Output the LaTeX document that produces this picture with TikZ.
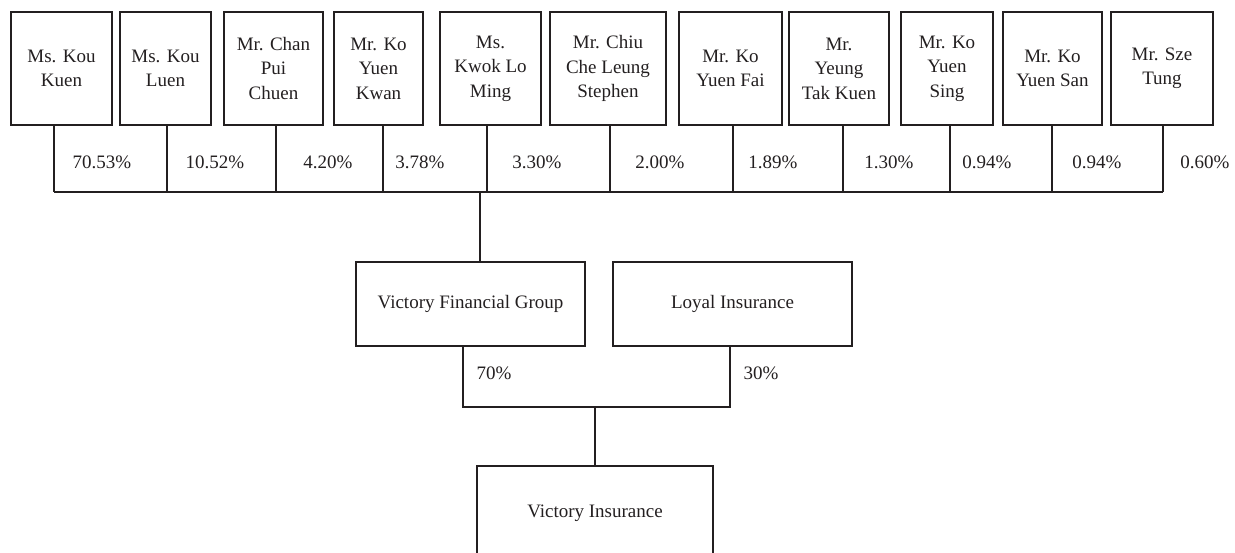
\documentclass[tikz,border=0pt]{standalone}
\usepackage{fontspec}
\setmainfont{Liberation Serif}
\definecolor{ink}{HTML}{231F20}
\begin{document}
\begin{tikzpicture}[x=1pt,y=-1pt,
  every node/.style={font=\fontsize{19}{24.5}\selectfont, text=ink},
  person/.style={draw=ink, line width=1.3pt, align=center, inner sep=0pt, minimum height=113pt},
  company/.style={draw=ink, line width=1.3pt, align=center, inner sep=0pt, minimum height=84pt},
  link/.style={draw=ink, line width=1.3pt},
  pct/.style={inner sep=0pt}]
\clip (0,0) rectangle (1235,553);
% shareholders
\node[person, minimum width=101pt] (b1)  at (61.5,68.5)  {Ms. Kou\\Kuen};
\node[person, minimum width=91pt]  (b2)  at (165.5,68.5) {Ms. Kou\\Luen};
\node[person, minimum width=99pt]  (b3)  at (273.5,68.5) {Mr. Chan\\Pui\\Chuen};
\node[person, minimum width=89pt]  (b4)  at (378.5,68.5) {Mr. Ko\\Yuen\\Kwan};
\node[person, minimum width=101pt] (b5)  at (490.5,68.5) {Ms.\\Kwok Lo\\Ming};
\node[person, minimum width=116pt] (b6)  at (608,68.5)   {Mr. Chiu\\Che Leung\\Stephen};
\node[person, minimum width=103pt] (b7)  at (730.5,68.5) {Mr. Ko\\Yuen Fai};
\node[person, minimum width=100pt] (b8)  at (839,68.5)   {Mr.\\Yeung\\Tak Kuen};
\node[person, minimum width=92pt]  (b9)  at (947,68.5)   {Mr. Ko\\Yuen\\Sing};
\node[person, minimum width=99pt]  (b10) at (1052.5,68.5){Mr. Ko\\Yuen San};
\node[person, minimum width=102pt] (b11) at (1162,68.5)  {Mr. Sze\\Tung};
% bus coordinates
\coordinate (j1)  at (54,192);
\coordinate (j2)  at (167,192);
\coordinate (j3)  at (276,192);
\coordinate (j4)  at (383,192);
\coordinate (j5)  at (487,192);
\coordinate (j6)  at (610,192);
\coordinate (j7)  at (733,192);
\coordinate (j8)  at (843,192);
\coordinate (j9)  at (950,192);
\coordinate (j10) at (1052,192);
\coordinate (j11) at (1163,192);
\coordinate (jd)  at (480,192);
\foreach \i in {1,...,11} {\draw[link] (b\i.south -| j\i) -- (j\i);}
\draw[link] (j1) -- (j11);
% percentages
\node[pct] (p1)  at (102,162)  {70.53\%};
\node[pct] (p2)  at (215,162)  {10.52\%};
\node[pct] (p3)  at (328,162)  {4.20\%};
\node[pct] (p4)  at (420,162)  {3.78\%};
\node[pct] (p5)  at (537,162)  {3.30\%};
\node[pct] (p6)  at (660,162)  {2.00\%};
\node[pct] (p7)  at (773,162)  {1.89\%};
\node[pct] (p8)  at (889,162)  {1.30\%};
\node[pct] (p9)  at (987,162)  {0.94\%};
\node[pct] (p10) at (1097,162) {0.94\%};
\node[pct] (p11) at (1205,162) {0.60\%};
% companies
\node[company, minimum width=229pt] (vfg) at (470.5,304) {Victory Financial Group};
\node[company, minimum width=239pt] (loyal) at (732.5,304) {Loyal Insurance};
\node[company, minimum width=236pt, minimum height=94pt] (vi) at (595,513) {Victory Insurance};
\draw[link] (jd) -- (vfg.north -| jd);
\coordinate (k1) at (463,407);
\coordinate (k2) at (730,407);
\coordinate (kd) at (595,407);
\draw[link] (vfg.south -| k1) -- (k1) -- (k2) -- (loyal.south -| k2);
\draw[link] (kd) -- (vi.north);
\node[pct] (q1) at (494,373) {70\%};
\node[pct] (q2) at (761,373) {30\%};
\end{tikzpicture}
\end{document}
